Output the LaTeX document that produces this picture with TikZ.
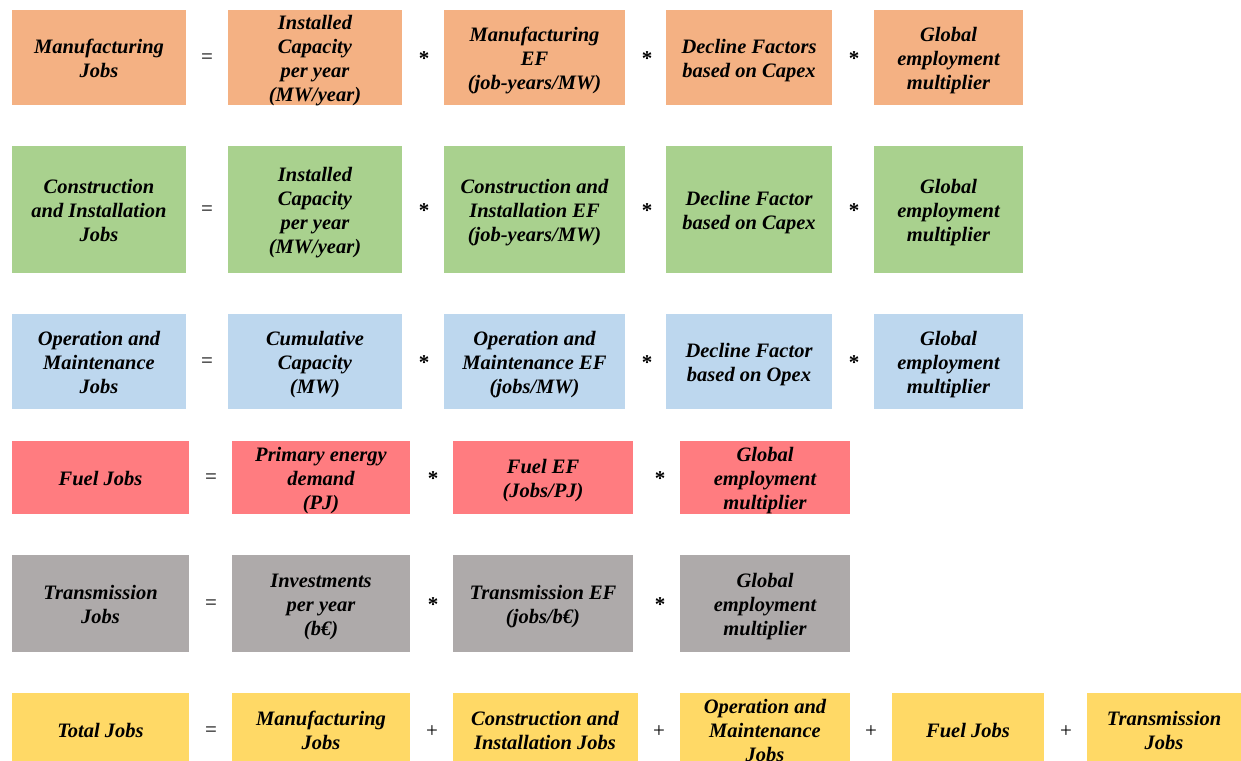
\documentclass[tikz,border=0pt]{standalone}
\usepackage{fontspec}
\setmainfont{Liberation Serif}
\definecolor{corange}{HTML}{F4B183}
\definecolor{cgreen}{HTML}{A9D18E}
\definecolor{cblue}{HTML}{BDD7EE}
\definecolor{cred}{HTML}{FF7C80}
\definecolor{cgray}{HTML}{AEAAAA}
\definecolor{cyellow}{HTML}{FFD966}
\tikzset{
  boxfill/.style={rectangle, inner sep=0pt},
  boxtext/.style={inner sep=0pt, align=center, text=black, yshift=-3pt,
    font=\fontsize{20.5}{24}\selectfont\bfseries\itshape},
  op/.style={inner sep=0pt, yshift=-1.5pt, font=\fontsize{21}{24}\selectfont},
  opstar/.style={inner sep=0pt, yshift=-1pt, font=\fontsize{21}{24}\selectfont\bfseries},
}
\newcommand{\bx}[7]{% name, cx, cy, w, h, color, text
  \node[boxfill, fill=#6, minimum width=#4pt, minimum height=#5pt] (#1) at (#2,#3) {};
  \node[boxtext] (#1-t) at (#1.center) {\strut #7\strut};}
\begin{document}
\begin{tikzpicture}[x=1pt,y=-1pt]
\useasboundingbox (0,0) rectangle (1241,760);
\clip (0,0) rectangle (1241,760);
% Row 1
\bx{m1}{99}{57.5}{174}{95}{corange}{Manufacturing\\Jobs}
\node[op] (e1) at (207,57.5) {=};
\bx{m2}{315}{57.5}{174}{95}{corange}{Installed\\Capacity\\per year\\(MW/year)}
\node[opstar] (s11) at (424,57.5) {*};
\bx{m3}{534.5}{57.5}{181}{95}{corange}{Manufacturing\\EF\\(job-years/MW)}
\node[opstar] (s12) at (647,57.5) {*};
\bx{m4}{749}{57.5}{166}{95}{corange}{Decline Factors\\based on Capex}
\node[opstar] (s13) at (854,57.5) {*};
\bx{m5}{948.5}{57.5}{149}{95}{corange}{Global\\employment\\multiplier}
% Row 2
\bx{c1}{99}{209.5}{174}{127}{cgreen}{Construction\\and Installation\\Jobs}
\node[op] (e2) at (207,209.5) {=};
\bx{c2}{315}{209.5}{174}{127}{cgreen}{Installed\\Capacity\\per year\\(MW/year)}
\node[opstar] (s21) at (424,209.5) {*};
\bx{c3}{534.5}{209.5}{181}{127}{cgreen}{Construction and\\Installation EF\\(job-years/MW)}
\node[opstar] (s22) at (647,209.5) {*};
\bx{c4}{749}{209.5}{166}{127}{cgreen}{Decline Factor\\based on Capex}
\node[opstar] (s23) at (854,209.5) {*};
\bx{c5}{948.5}{209.5}{149}{127}{cgreen}{Global\\employment\\multiplier}
% Row 3
\bx{o1}{99}{361.5}{174}{95}{cblue}{Operation and\\Maintenance\\Jobs}
\node[op] (e3) at (207,361.5) {=};
\bx{o2}{315}{361.5}{174}{95}{cblue}{Cumulative\\Capacity\\(MW)}
\node[opstar] (s31) at (424,361.5) {*};
\bx{o3}{534.5}{361.5}{181}{95}{cblue}{Operation and\\Maintenance EF\\(jobs/MW)}
\node[opstar] (s32) at (647,361.5) {*};
\bx{o4}{749}{361.5}{166}{95}{cblue}{Decline Factor\\based on Opex}
\node[opstar] (s33) at (854,361.5) {*};
\bx{o5}{948.5}{361.5}{149}{95}{cblue}{Global\\employment\\multiplier}
% Row 4
\bx{f1}{100.5}{477.5}{177}{73}{cred}{Fuel Jobs}
\node[op] (e4) at (211,477.5) {=};
\bx{f2}{321}{477.5}{178}{73}{cred}{Primary energy\\demand\\(PJ)}
\node[opstar] (s41) at (433,477.5) {*};
\bx{f3}{543}{477.5}{180}{73}{cred}{Fuel EF\\(Jobs/PJ)}
\node[opstar] (s42) at (660,477.5) {*};
\bx{f4}{765}{477.5}{170}{73}{cred}{Global\\employment\\multiplier}
% Row 5
\bx{t1}{100.5}{603.5}{177}{97}{cgray}{Transmission\\Jobs}
\node[op] (e5) at (211,603.5) {=};
\bx{t2}{321}{603.5}{178}{97}{cgray}{Investments\\per year\\(b€)}
\node[opstar] (s51) at (433,603.5) {*};
\bx{t3}{543}{603.5}{180}{97}{cgray}{Transmission EF\\(jobs/b€)}
\node[opstar] (s52) at (660,603.5) {*};
\bx{t4}{765}{603.5}{170}{97}{cgray}{Global\\employment\\multiplier}
% Row 6
\bx{y1}{100.5}{730}{177}{74}{cyellow}{Total Jobs}
\node[op] (e6) at (211,730) {=};
\bx{y2}{321}{730}{178}{74}{cyellow}{Manufacturing\\Jobs}
\node[op] (p1) at (432,730) {+};
\bx{y3}{545}{730}{185}{74}{cyellow}{Construction and\\Installation Jobs}
\node[op] (p2) at (659,730) {+};
\bx{y4}{765}{730}{170}{74}{cyellow}{Operation and\\Maintenance\\Jobs}
\node[op] (p3) at (871,730) {+};
\bx{y5}{968}{730}{152}{74}{cyellow}{Fuel Jobs}
\node[op] (p4) at (1066,730) {+};
\bx{y6}{1164}{730}{154}{74}{cyellow}{Transmission\\Jobs}
\end{tikzpicture}
\end{document}
